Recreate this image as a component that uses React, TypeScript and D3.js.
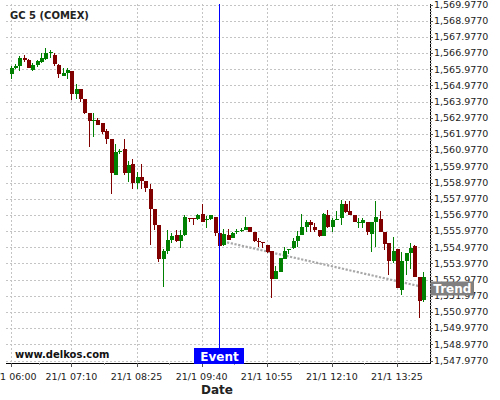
import React from 'react';
import * as d3 from 'd3';

const TITLE = 'GC 5 (COMEX)';
const WATERMARK = 'www.delkos.com';
const X_TITLE = 'Date';
const DATE_PREFIX = '21/1 ';
const START_TIME = '06:00';
const INTERVAL_MIN = 5;

const OPEN = [
  1565.70, 1566.03, 1566.18, 1566.65, 1566.55, 1565.95, 1566.26, 1566.41, 1566.59, 1567.00,
  1566.86, 1566.24, 1565.58, 1565.74, 1565.87, 1564.46, 1564.74, 1564.14, 1563.29, 1562.80,
  1562.84, 1562.65, 1562.14, 1561.67, 1559.46, 1560.91, 1561.05, 1559.58, 1560.12, 1558.96,
  1559.30, 1559.07, 1558.58, 1557.34, 1556.37, 1554.27, 1554.74, 1555.42, 1555.73, 1555.38,
  1555.73, 1556.77, 1556.77, 1556.72, 1557.03, 1556.71, 1556.72, 1556.84, 1555.84, 1555.11,
  1555.73, 1555.57, 1555.97, 1556.05, 1556.06, 1556.23, 1555.94, 1555.39, 1555.33, 1555.11,
  1554.74, 1552.99, 1553.46, 1554.25, 1554.84, 1554.91, 1555.36, 1555.73, 1556.23, 1556.55,
  1556.23, 1556.04, 1555.69, 1556.97, 1556.23, 1556.71, 1556.76, 1557.65, 1557.22, 1556.97,
  1556.46, 1556.46, 1556.52, 1555.78, 1556.55, 1556.72, 1555.94, 1555.22, 1554.14, 1554.87,
  1552.33, 1554.14, 1554.64, 1555.05, 1553.16, 1551.72,
];
const HIGH = [
  1566.18, 1566.30, 1566.81, 1566.86, 1566.61, 1566.34, 1566.55, 1567.00, 1567.27, 1567.15,
  1566.96, 1566.30, 1566.03, 1566.03, 1565.89, 1565.06, 1564.74, 1564.14, 1563.29, 1563.27,
  1562.98, 1562.65, 1562.30, 1561.67, 1561.34, 1561.07, 1561.65, 1560.32, 1560.43, 1559.63,
  1560.12, 1559.07, 1558.88, 1557.34, 1556.37, 1554.85, 1556.02, 1555.84, 1556.02, 1556.04,
  1556.97, 1556.77, 1556.77, 1557.01, 1557.63, 1556.91, 1556.97, 1556.84, 1555.84, 1556.08,
  1556.08, 1555.94, 1556.08, 1556.15, 1556.84, 1556.23, 1555.94, 1555.53, 1555.33, 1555.11,
  1554.74, 1553.82, 1554.29, 1555.01, 1554.85, 1555.53, 1555.98, 1557.01, 1556.66, 1556.66,
  1556.46, 1556.04, 1557.07, 1557.28, 1556.80, 1557.22, 1557.90, 1557.83, 1557.83, 1556.97,
  1556.80, 1556.76, 1556.52, 1556.52, 1557.83, 1557.22, 1555.94, 1555.22, 1555.63, 1554.87,
  1554.70, 1554.60, 1555.22, 1555.11, 1553.16, 1553.43,
];
const LOW = [
  1565.39, 1565.97, 1565.89, 1566.44, 1566.03, 1565.89, 1566.13, 1566.34, 1566.55, 1566.65,
  1566.20, 1565.42, 1565.54, 1565.35, 1564.06, 1564.12, 1563.97, 1563.21, 1561.15, 1561.81,
  1562.51, 1561.96, 1561.36, 1558.25, 1559.42, 1560.74, 1559.42, 1559.03, 1558.59, 1558.59,
  1558.59, 1558.41, 1555.10, 1556.02, 1554.05, 1552.50, 1554.58, 1555.22, 1555.32, 1554.91,
  1555.70, 1556.52, 1556.35, 1556.66, 1556.55, 1556.18, 1556.66, 1555.67, 1555.01, 1555.05,
  1555.44, 1555.53, 1555.78, 1555.94, 1556.02, 1555.90, 1555.32, 1555.01, 1554.91, 1554.60,
  1551.82, 1552.99, 1553.43, 1554.25, 1554.56, 1554.87, 1555.01, 1555.73, 1555.94, 1555.94,
  1555.94, 1555.63, 1555.69, 1556.15, 1555.94, 1556.66, 1556.35, 1557.11, 1556.97, 1556.52,
  1556.18, 1556.15, 1555.73, 1554.70, 1555.01, 1555.94, 1554.81, 1553.26, 1554.02, 1552.48,
  1552.02, 1553.26, 1553.63, 1553.16, 1550.62, 1551.61,
];
const CLOSE = [
  1566.05, 1566.18, 1566.65, 1566.55, 1566.07, 1566.24, 1566.47, 1566.65, 1566.96, 1567.02,
  1566.28, 1565.70, 1565.74, 1565.93, 1564.46, 1564.74, 1564.12, 1563.29, 1562.78, 1562.82,
  1562.55, 1562.08, 1561.68, 1559.58, 1560.86, 1560.92, 1559.58, 1560.04, 1558.96, 1559.30,
  1559.09, 1558.66, 1557.36, 1556.37, 1554.27, 1554.74, 1555.42, 1555.69, 1555.38, 1555.73,
  1556.86, 1556.75, 1556.75, 1556.97, 1556.55, 1556.72, 1556.97, 1555.87, 1555.07, 1555.78,
  1555.44, 1555.87, 1555.98, 1556.06, 1556.23, 1555.94, 1555.38, 1555.38, 1555.32, 1554.66,
  1552.99, 1553.51, 1554.29, 1554.74, 1554.85, 1555.36, 1555.69, 1556.23, 1556.55, 1556.35,
  1556.04, 1555.69, 1557.03, 1556.23, 1556.66, 1556.72, 1557.65, 1557.17, 1556.97, 1556.55,
  1556.55, 1556.66, 1555.90, 1556.52, 1556.83, 1555.94, 1555.16, 1554.14, 1554.74, 1552.48,
  1554.14, 1554.60, 1554.91, 1553.16, 1551.67, 1553.16,
];

const Y_TICKS = [
  1547.977, 1548.977, 1549.977, 1550.977, 1551.977, 1552.977, 1553.977, 1554.977,
  1555.977, 1556.977, 1557.977, 1558.977, 1559.977, 1560.977, 1561.977, 1562.977,
  1563.977, 1564.977, 1565.977, 1566.977, 1567.977, 1568.977, 1569.977,
];
const X_TICKS = ['06:00', '07:10', '08:25', '09:40', '10:55', '12:10', '13:25'];
const X_MINOR_TICKS = ['06:32:30', '07:47:30', '09:02:30', '10:17:30', '11:32:30', '12:47:30'];
const EVENT_TIME = '10:00';
const EVENT_LABEL = 'Event';
const TREND_TIMES = ['10:05', '13:55'];
const TREND_VALUES = [1555.33, 1552.52];
const TREND_LABEL = 'Trend';

const toMin = (s: string) => {
  const p = s.split(':').map(Number);
  return p[0] * 60 + p[1] + (p[2] || 0) / 60;
};

const W = 500;
const H = 400;
const L = 6;
const R = 430;
const T = 4;
const B = 363;
const UP = '#008000';
const DOWN = '#800000';
const FONT = 'DejaVu Sans, sans-serif';

export default function App() {
  const start = toMin(START_TIME);
  const times = OPEN.map((_, i) => start + i * INTERVAL_MIN);
  const x = d3
    .scaleLinear()
    .domain([times[0] - 5.4, times[times.length - 1] + 8.1])
    .range([L, R]);
  const y = d3.scaleLinear().domain([1547.823, 1570.008]).range([B, T]);
  const fmt = d3.format(',.4f');
  const bw = 4;

  const yMinor: number[] = [];
  for (let k = 0; k < Y_TICKS.length; k++) {
    for (let j = 1; j < 5; j++) {
      const v = Y_TICKS[k] + j * 0.2;
      if (y(v) >= T) yMinor.push(v);
    }
  }

  const trendLine = d3
    .line<number>()
    .x((_, i) => x(toMin(TREND_TIMES[i])))
    .y((d) => y(d));

  const ex = Math.round(x(toMin(EVENT_TIME))) + 0.5;

  return (
    <svg
      width={W}
      height={H}
      style={{ position: 'absolute', left: 0, top: 0, background: '#fff' }}
      fontFamily={FONT}
    >
      <rect x={0} y={0} width={W} height={H} fill="#fff" />
      {/* grid */}
      <g stroke="#c4c4c4" strokeWidth={1} strokeDasharray="2,2" shapeRendering="crispEdges">
        {Y_TICKS.map((v) => (
          <line key={'gy' + v} x1={L} x2={R} y1={Math.round(y(v)) + 0.5} y2={Math.round(y(v)) + 0.5} />
        ))}
        {X_TICKS.map((t) => (
          <line key={'gx' + t} y1={T} y2={B} x1={Math.round(x(toMin(t))) + 0.5} x2={Math.round(x(toMin(t))) + 0.5} />
        ))}
      </g>
      {/* trend */}
      <path
        d={trendLine(TREND_VALUES) || ''}
        fill="none"
        stroke="#a8a8a8"
        strokeWidth={2.2}
        strokeDasharray="2.2,1.6"
      />
      {/* candles */}
      <g shapeRendering="crispEdges">
        {OPEN.map((o, i) => {
          const c = CLOSE[i];
          const col = c >= o ? UP : DOWN;
          const cx = Math.round(x(times[i])) + 0.5;
          const top = y(Math.max(o, c));
          const bot = y(Math.min(o, c));
          return (
            <g key={i}>
              <line x1={cx} x2={cx} y1={y(HIGH[i])} y2={y(LOW[i])} stroke={col} strokeWidth={1} />
              <rect
                x={cx - bw / 2}
                y={top}
                width={bw}
                height={Math.max(1, bot - top)}
                fill={col}
              />
            </g>
          );
        })}
      </g>
      {/* axes */}
      <g stroke="#000" shapeRendering="crispEdges">
        <line x1={L} x2={R + 0.5} y1={B + 0.5} y2={B + 0.5} />
        <line x1={R + 0.5} x2={R + 0.5} y1={T} y2={B + 0.5} />
        {Y_TICKS.map((v) => (
          <line key={'ty' + v} x1={R} x2={R + 3} y1={Math.round(y(v)) + 0.5} y2={Math.round(y(v)) + 0.5} stroke="#555" />
        ))}
        {yMinor.map((v, i) => (
          <line key={'my' + i} x1={R} x2={R + 2} y1={Math.round(y(v)) + 0.5} y2={Math.round(y(v)) + 0.5} stroke="#aaa" />
        ))}
        {X_TICKS.map((t) => (
          <line key={'tx' + t} y1={B} y2={B + 4} x1={Math.round(x(toMin(t))) + 0.5} x2={Math.round(x(toMin(t))) + 0.5} stroke="#555" />
        ))}
        {X_MINOR_TICKS.map((t) => (
          <line key={'mx' + t} y1={B} y2={B + 2} x1={Math.round(x(toMin(t))) + 0.5} x2={Math.round(x(toMin(t))) + 0.5} stroke="#999" />
        ))}
      </g>
      <g fontSize={9.5} fill="#222">
        {Y_TICKS.map((v) => (
          <text key={'ly' + v} x={R + 4} y={y(v)} dy="0.35em">
            {fmt(v)}
          </text>
        ))}
        {X_TICKS.map((t) => (
          <text key={'lx' + t} x={x(toMin(t))} y={380} textAnchor="middle">
            {DATE_PREFIX + t}
          </text>
        ))}
      </g>
      {/* event */}
      <line x1={ex} x2={ex} y1={T} y2={348} stroke="#0000ff" strokeWidth={1} shapeRendering="crispEdges" />
      <rect x={ex - 25.5} y={348} width={50} height={16} fill="#0000ff" />
      <text x={ex} y={360.5} textAnchor="middle" fontSize={12} fontWeight="bold" fill="#fff">
        {EVENT_LABEL}
      </text>
      {/* trend label */}
      <rect x={430.5} y={281.5} width={43.5} height={14} fill="#808080" />
      <text x={452.3} y={293} textAnchor="middle" fontSize={12} fontWeight="bold" fill="#fff">
        {TREND_LABEL}
      </text>
      {/* titles */}
      <text x={10} y={19} fontSize={10} fontWeight="bold" fill="#222">
        {TITLE}
      </text>
      <text x={15} y={357.5} fontSize={10} fontWeight="bold" fill="#111">
        {WATERMARK}
      </text>
      <text x={217} y={393.5} textAnchor="middle" fontSize={12} fontWeight="bold" fill="#222">
        {X_TITLE}
      </text>
    </svg>
  );
}
